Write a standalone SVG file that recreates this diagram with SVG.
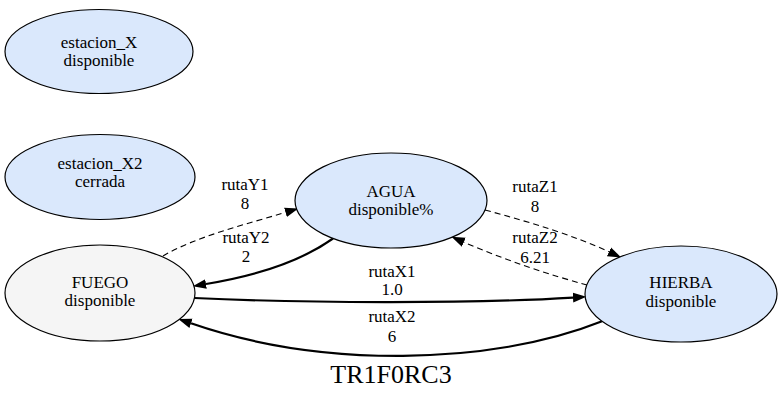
<svg xmlns="http://www.w3.org/2000/svg" width="783" height="402" viewBox="0 0 783 402" font-family="'Liberation Serif', 'Times New Roman', serif">
<defs>
<style>
.node ellipse{stroke:#000;stroke-width:1.2}
.blue{fill:#dae8fc}
.grey{fill:#f5f5f5}
text{font-size:17px;fill:#000;text-anchor:middle}
.edge{fill:none;stroke:#000}
.dash{stroke-width:1.1;stroke-dasharray:6,4}
.solid{stroke-width:2.2}
.title{font-size:26px}
</style>
<marker id="ah" markerUnits="userSpaceOnUse" markerWidth="14" markerHeight="12" refX="0" refY="4.5" orient="auto" viewBox="0 0 13 9">
<path d="M0,0 L12.5,4.5 L0,9 z" fill="#000" stroke="none"/>
</marker>
</defs>
<rect width="783" height="402" fill="#fff"/>
<g id="connectors">
<path class="edge dash" d="M163,256 C195,237 245,224.5 285.5,212.4" marker-end="url(#ah)"/>
<path class="edge solid" d="M333,238.5 C300,262 255,276 206,284" marker-end="url(#ah)"/>
<path class="edge solid" d="M194.5,298 C300,303 470,304 573,297.6" marker-end="url(#ah)"/>
<path class="edge solid" d="M602,321.3 C490,366 320,368 191,323.3" marker-end="url(#ah)"/>
<path class="edge dash" d="M485,210 C530,222 575,236 609,251.8" marker-end="url(#ah)"/>
<path class="edge dash" d="M587,285 C550,275 505,260 463.8,242.2" marker-end="url(#ah)"/>
<text x="245" y="190">rutaY1</text><text x="245" y="209">8</text>
<text x="246" y="243">rutaY2</text><text x="246" y="262">2</text>
<text x="392" y="277">rutaX1</text><text x="392" y="295">1.0</text>
<text x="392" y="322">rutaX2</text><text x="392" y="342">6</text>
<text x="535" y="192">rutaZ1</text><text x="535" y="212">8</text>
<text x="535" y="243">rutaZ2</text><text x="535" y="263">6.21</text>
</g>
<g id="estacion_X" class="node">
<ellipse class="blue" cx="99" cy="51.5" rx="94" ry="42"/>
<text x="99" y="48">estacion_X</text><text x="99" y="66">disponible</text>
</g>
<g id="estacion_X2" class="node">
<ellipse class="blue" cx="100" cy="177" rx="95" ry="42.5"/>
<text x="100" y="169">estacion_X2</text><text x="100" y="187">cerrada</text>
</g>
<g id="FUEGO" class="node">
<ellipse class="grey" cx="100" cy="293" rx="95" ry="48"/>
<text x="100" y="288">FUEGO</text><text x="100" y="306">disponible</text>
</g>
<g id="AGUA" class="node">
<ellipse class="blue" cx="391" cy="200.5" rx="96" ry="47.5"/>
<text x="391" y="197">AGUA</text><text x="391" y="215">disponible%</text>
</g>
<g id="HIERBA" class="node">
<ellipse class="blue" cx="681" cy="294" rx="96" ry="48"/>
<text x="681" y="288">HIERBA</text><text x="681" y="307">disponible</text>
</g>
<text class="title" x="391" y="383">TR1F0RC3</text>
</svg>
